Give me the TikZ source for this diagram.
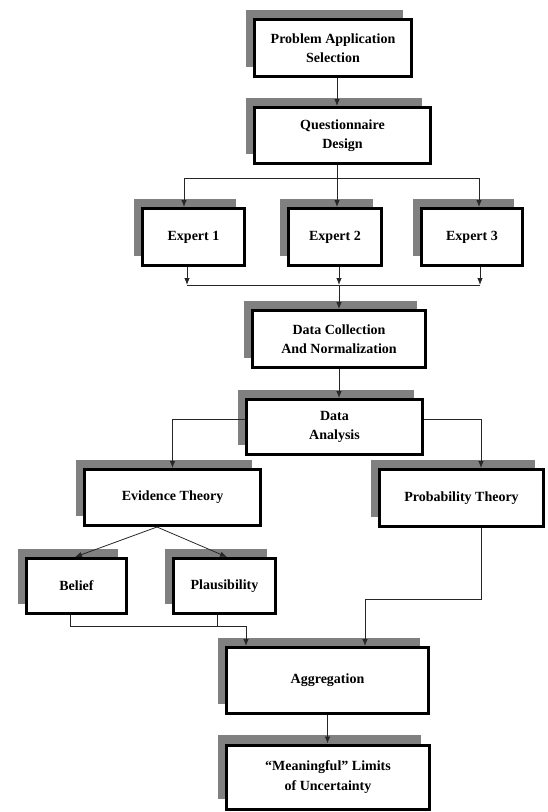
\documentclass[tikz,border=0pt]{standalone}
\usepackage{fontspec}
\setmainfont{Liberation Serif}
\usepackage{tikz}
\usetikzlibrary{shadows,arrows.meta}
\definecolor{shadowgray}{RGB}{128,128,128}
\tikzset{>={Latex[length=7pt,width=5.5pt]}}
\tikzset{stage/.style={draw, line width=3pt, fill=white, align=center, inner sep=2pt,
    font=\fontsize{14}{19.5}\selectfont\bfseries,
    general shadow={fill=shadowgray, shadow xshift=-9pt, shadow yshift=10pt}},
  link/.style={line width=.8pt, draw=black!85}}

\begin{document}
\begin{tikzpicture}[x=1pt,y=-1pt]
    \useasboundingbox (0,0) rectangle (547,812);
    \node[stage, minimum width=157, minimum height=57] (pas) at (333,48) {Problem Application\\Selection};
    \node[stage, minimum width=176, minimum height=56] (qd) at (342.5,135.5) {Questionnaire\\Design};
    \node[stage, minimum width=102, minimum height=57] (ex1) at (193.5,237) {Expert 1};
    \node[stage, minimum width=93, minimum height=57] (ex2) at (335,237) {Expert 2};
    \node[stage, minimum width=101, minimum height=57] (ex3) at (472,237) {Expert 3};
    \node[stage, minimum width=173, minimum height=57] (dcn) at (339,339) {Data Collection\\And Normalization};
    \node[stage, minimum width=176, minimum height=55] (da) at (334.5,427) {Data\\Analysis};
    \node[stage, minimum width=176, minimum height=56] (evt) at (172.5,497.5) {Evidence Theory};
    \node[stage, minimum width=164, minimum height=57] (prt) at (461.5,498) {Probability Theory};
    \node[stage, minimum width=100, minimum height=55] (bel) at (76.5,586) {Belief};
    \node[stage, minimum width=102, minimum height=55] (pla) at (224.5,586) {Plausibility};
    \node[stage, minimum width=202, minimum height=66] (agg) at (327.5,680.5) {Aggregation};
    \node[stage, minimum width=203, minimum height=64] (mlu) at (328,777) {“Meaningful” Limits\\of Uncertainty};

    \coordinate (split) at (337,178);
    \coordinate (sl) at (184,178);
    \coordinate (sr) at (479,178);
    \coordinate (join) at (339,285);
    \coordinate (jl) at (187,285);
    \coordinate (jr) at (480,285);
    \coordinate (dal) at (172.5,419);
    \coordinate (dar) at (481,419);
    \coordinate (bp) at (246,626);
    \coordinate (pa) at (365,599);

    \draw[link,->] (pas.south -| split) -- (qd.north -| split);
    \draw[link] (qd.south -| split) -- (split);
    \draw[link] (sl) -- (sr);
    \draw[link,->] (sl) -- (ex1.north -| sl);
    \draw[link,->] (split) -- (ex2.north -| split);
    \draw[link,->] (sr) -- (ex3.north -| sr);
    \draw[link] (jl) -- (jr);
    \draw[link,->] (ex1.south -| jl) -- (jl);
    \draw[link,->] (ex2.south -| join) -- (join);
    \draw[link,->] (ex3.south -| jr) -- (jr);
    \draw[link,->] (join) -- (dcn.north -| join);
    \draw[link,->] (dcn.south -| join) -- (da.north -| join);
    \draw[link,->] (da.west |- dal) -| (evt.north -| dal);
    \draw[link,->] (da.east |- dar) -| (prt.north -| dar);
    \draw[link,->] ([xshift=-15.5pt]evt.south) -- ([xshift=-1.5pt]bel.north);
    \draw[link,->] ([xshift=-15.5pt]evt.south) -- ([xshift=2.5pt]pla.north);
    \draw[link,->] ([xshift=-6.5pt]bel.south) |- (bp) -- (agg.north -| bp);
    \draw[link] ([xshift=-7.5pt]pla.south) -- ([xshift=-7.5pt]pla.south |- bp);
    \draw[link,->] (prt.south -| dar) |- (pa) -- (agg.north -| pa);
    \draw[link,->] (agg.south) -- (mlu.north -| agg);
\end{tikzpicture}
\end{document}
